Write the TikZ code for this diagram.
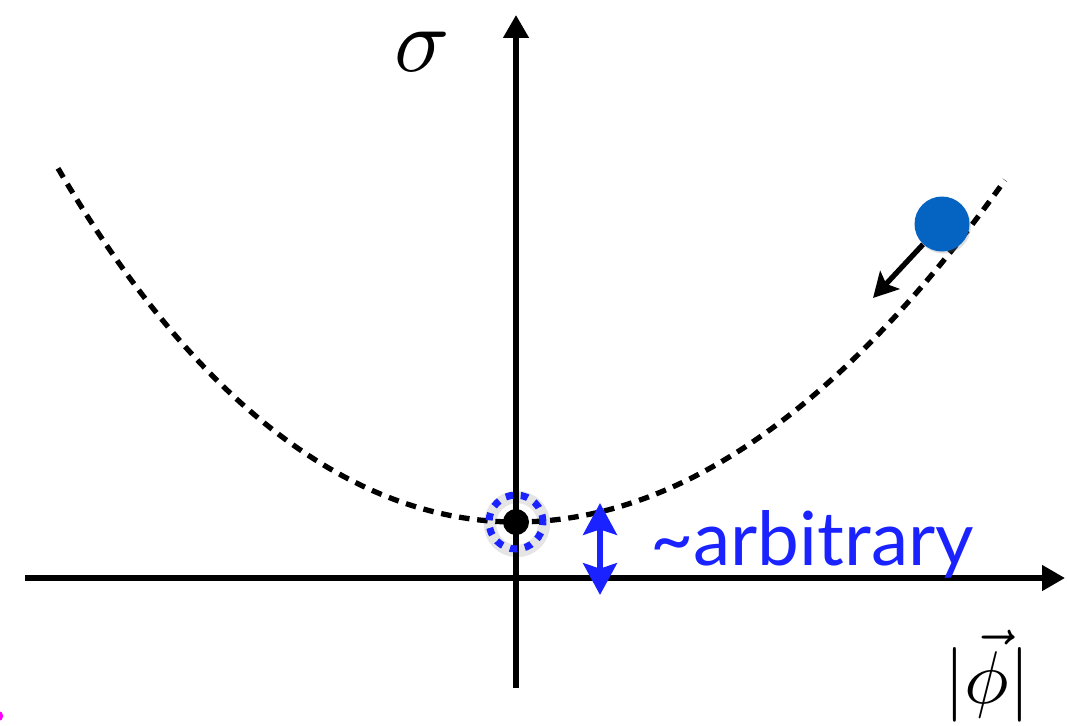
\documentclass[tikz,border=0pt]{standalone}
\usepackage{amsmath}
\usepackage{graphicx}
\usepackage{fontspec}
\newfontfamily\labelfont{Lato}
\usepackage{tikz}
\usetikzlibrary{arrows.meta,positioning,shadows}
\definecolor{arbblue}{RGB}{26,35,255}
\definecolor{ballblue}{RGB}{5,99,193}
\definecolor{pinkdot}{RGB}{255,0,255}

\begin{document}
\begin{tikzpicture}[
      x=0.02cm, y=-0.02cm,
      axis/.style={line width=3pt, -{Triangle[length=13pt, width=14pt]}},
      pot/.style={line width=3pt, dash pattern=on 6pt off 4.4pt},
      ring/.style={circle, minimum size=1.08cm, inner sep=0pt, draw=arbblue,
                   line width=4pt, dash pattern=on 4.2pt off 4.4pt},
      halo/.style={circle, minimum size=1.08cm, inner sep=0pt, draw=black,
                   line width=7pt, opacity=0.1},
      vac/.style={circle, minimum size=0.52cm, inner sep=0pt, fill=black},
      ball/.style={circle, minimum size=1.1cm, inner sep=0pt, fill=ballblue,
                   drop shadow={shadow xshift=0.8pt, shadow yshift=-1.2pt, opacity=0.25}},
      push/.style={line width=3pt, -{Stealth[length=14pt, width=15pt, inset=3pt]}},
      gap/.style={line width=3.8pt, arbblue,
                  {Stealth[length=18pt, width=19pt, inset=3pt]}-{Stealth[length=18pt, width=19pt, inset=3pt]}},
      lbl/.style={inner sep=0pt}
    ]
    \useasboundingbox (0,0) rectangle (1067,725);
    \clip (0,0) rectangle (1067,725);
    \coordinate (xl) at (25,578);
    \coordinate (xr) at (1065,578);
    \coordinate (yb) at (516,688);
    \coordinate (yt) at (516,15);
    \draw[axis] (xl) -- (xr);
    \draw[axis] (yb) -- (yt);
    \draw[pot] plot[domain=-4.58:4.89, samples=120, smooth]
      ({516+100*\x}, {522-(\x<0 ? 15.1*\x*\x+0.084*\x*\x*\x*\x : 14.3*\x*\x)});
    \node[halo] (shade) at (517,524) {};
    \node[ring] (well) at (516,522) {};
    \node[vac] (vac) at (516,522) {};
    \node[ball] (field) at (942,224) {};
    \coordinate (roll) at (873,298);
    \draw[push] (field) -- (roll);
    \coordinate (gaptop) at (600,503);
    \coordinate (gapbot) at (600,595);
    \draw[gap] (gaptop) -- (gapbot);
    \node[lbl, anchor=base west, text=arbblue, font=\labelfont\fontsize{42.5}{48}\selectfont]
      (arb) at (650,565) {\textasciitilde arbitrary};
    \node[lbl] (sig) at (422,52) {\scalebox{5.2}{$\sigma$}};
    \node[lbl, anchor=base] (phi) at (987,703) {\scalebox{4.25}{$|\vec{\phi}|$}};
    \fill[pinkdot] (-2,716) circle[radius=3pt];
  \end{tikzpicture}
\end{document}
